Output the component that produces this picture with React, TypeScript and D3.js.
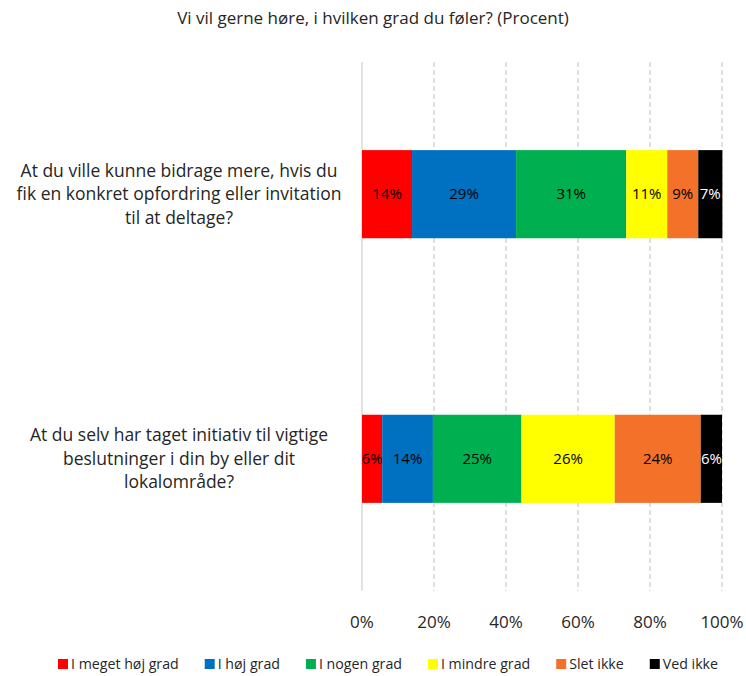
import React, { useEffect, useRef } from 'react';
import * as d3 from 'd3';

// questions (top to bottom), each wrapped the way the chart shows them
const questions = [
  ['At du ville kunne bidrage mere, hvis du', 'fik en konkret opfordring eller invitation', 'til at deltage?'],
  ['At du selv har taget initiativ til vigtige', 'beslutninger i din by eller dit', 'lokalområde?'],
];

const answers = ['I meget høj grad', 'I høj grad', 'I nogen grad', 'I mindre grad', 'Slet ikke', 'Ved ikke'];
const colors = ['#ff0000', '#0070c0', '#00b050', '#ffff00', '#f4712a', '#000000'];

// shares in percent, one array per question, in answer order
const shareBidrage = [13.9, 28.9, 30.6, 11.4, 8.6, 6.7];
const shareInitiativ = [5.6, 14.1, 24.6, 25.9, 23.9, 5.9];

const xTicks = [0, 20, 40, 60, 80, 100];

const FONT = '"Segoe UI", "Open Sans", sans-serif';

const App = () => {
  const ref = useRef<SVGSVGElement>(null);

  useEffect(() => {
    document.body.style.margin = '0';
    const width = 746;
    const height = 676;
    const plot = { left: 362, right: 722, top: 62, bottom: 591 };

    const svg = d3.select(ref.current);
    svg.selectAll('*').remove();
    svg.attr('width', width).attr('height', height).style('font-family', FONT);

    const x = d3.scaleLinear().domain([0, 100]).range([plot.left, plot.right]);
    const y = d3.scaleBand<number>()
      .domain(d3.range(questions.length))
      .range([plot.top, plot.bottom])
      .paddingInner(0.667)
      .paddingOuter(0.333);

    const rows = [shareBidrage, shareInitiativ];

    // title
    svg.append('text')
      .attr('x', 373).attr('y', 24)
      .attr('text-anchor', 'middle')
      .style('font-size', '17px').style('fill', '#262626')
      .text('Vi vil gerne høre, i hvilken grad du føler? (Procent)');

    // gridlines
    svg.append('g').selectAll('line')
      .data(xTicks.slice(1))
      .enter().append('line')
      .attr('x1', d => x(d)).attr('x2', d => x(d))
      .attr('y1', plot.top).attr('y2', plot.bottom)
      .attr('stroke', '#bfbfbf').attr('stroke-width', 1)
      .attr('stroke-dasharray', '5,3');

    // category axis line
    svg.append('line')
      .attr('x1', x(0)).attr('x2', x(0))
      .attr('y1', plot.top).attr('y2', plot.bottom)
      .attr('stroke', '#d9d9d9').attr('stroke-width', 1.5);

    // stacked bars
    rows.forEach((vals, r) => {
      const stack = d3.cumsum(vals);
      const g = svg.append('g');
      vals.forEach((v, i) => {
        const x0 = x(stack[i] - v);
        const x1 = x(stack[i]);
        g.append('rect')
          .attr('x', x0).attr('y', y(r)!)
          .attr('width', x1 - x0).attr('height', y.bandwidth())
          .attr('fill', colors[i]);
        g.append('text')
          .attr('x', (x0 + x1) / 2)
          .attr('y', y(r)! + y.bandwidth() / 2)
          .attr('dy', '0.35em')
          .attr('text-anchor', 'middle')
          .style('font-size', '15px')
          .style('fill', i === 5 ? '#ffffff' : '#000000')
          .text(d3.format('.0f')(v) + '%');
      });

      // question label
      const lines = questions[r];
      const cy = y(r)! + y.bandwidth() / 2;
      svg.append('text')
        .attr('text-anchor', 'middle')
        .style('font-size', '17.5px').style('fill', '#262626')
        .selectAll('tspan')
        .data(lines)
        .enter().append('tspan')
        .attr('x', 179)
        .attr('y', (d, i) => cy + (i - (lines.length - 1) / 2) * 23.5)
        .attr('dy', '0.35em')
        .text(d => d);
    });

    // x tick labels
    svg.append('g').selectAll('text')
      .data(xTicks)
      .enter().append('text')
      .attr('x', d => x(d)).attr('y', 628)
      .attr('text-anchor', 'middle')
      .style('font-size', '17px').style('fill', '#262626')
      .text(d => d + '%');

    // legend
    const legend = svg.append('g');
    let lx = 0;
    answers.forEach((a, i) => {
      const item = legend.append('g').attr('transform', `translate(${lx},0)`);
      item.append('rect')
        .attr('x', 0).attr('y', -5)
        .attr('width', 10).attr('height', 10)
        .attr('fill', colors[i]);
      const t = item.append('text')
        .attr('x', 13).attr('dy', '0.35em')
        .style('font-size', '14.2px').style('fill', '#262626')
        .text(a);
      const w = (t.node() as SVGTextElement).getComputedTextLength();
      lx += 13 + w + 26;
    });
    const total = lx - 26;
    legend.attr('transform', `translate(${388 - total / 2},664)`);
  }, []);

  return (
    <div style={{ width: 746, height: 676 }}>
      <svg ref={ref} style={{ display: 'block' }} />
    </div>
  );
};

export default App;
